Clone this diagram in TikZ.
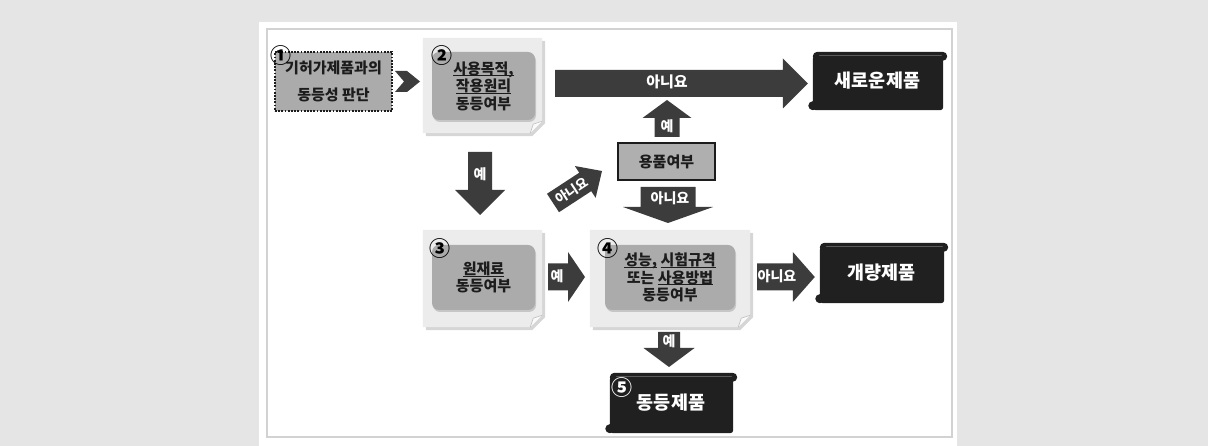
\documentclass[tikz,border=0pt]{standalone}
\usepackage{fontspec}
\newfontfamily\kr{Noto Sans CJK KR}
\usetikzlibrary{calc,shadows}
\definecolor{bgc}{HTML}{E5E5E5}
\definecolor{framec}{HTML}{D2D2D2}
\definecolor{pagec}{HTML}{ECECEC}
\definecolor{foldc}{HTML}{FAFAFA}
\definecolor{boxc}{HTML}{ABABAB}
\definecolor{arrowc}{HTML}{3C3C3C}
\definecolor{scrollc}{HTML}{202020}
\definecolor{scrollhl}{HTML}{5A5A5A}
\definecolor{txtc}{HTML}{1C1C1C}
\pgfdeclarelayer{bottom}
\pgfdeclarelayer{background}
\pgfsetlayers{bottom,background,main}
\newcommand\ulk[1]{\setbox0\hbox{#1}\rlap{\rule[-2.2pt]{\wd0}{0.9pt}}\box0}
\tikzset{
  nodetxt/.style={font=\kr\bfseries\fontsize{15}{17.5}\selectfont, text=txtc, align=center},
  innerbox/.style={nodetxt, rounded corners=7pt, fill=boxc, inner sep=0pt,
     drop shadow={shadow xshift=1pt, shadow yshift=-2pt, opacity=.35}},
  pagepanel/.style={inner sep=0pt},
  dotbox/.style={nodetxt, fill=boxc, draw=txtc, line width=1.8pt, dash pattern=on 1.8pt off 1.4pt, inner sep=0pt},
  yongbox/.style={nodetxt, fill=boxc!95!white, draw=txtc, line width=1.4pt, inner sep=0pt},
  scrollnode/.style={font=\kr\bfseries\fontsize{18.5}{20}\selectfont, text=white, inner sep=0pt},
  numc/.style={font=\kr\bfseries\fontsize{21}{21}\selectfont, text=black, inner sep=0pt},
  arrtxt/.style={font=\kr\bfseries\fontsize{14}{15}\selectfont, text=white, inner sep=0pt},
}
% block arrow: start, tip, shaft half width, head half width, head length
\newcommand\blockarrow[5]{%
  \path ($(#2)!#5!(#1)$) coordinate (ba-h);
  \fill[arrowc] ($(#1)!#3!90:(#2)$) -- ($(ba-h)!#3!90:(#2)$) -- ($(ba-h)!#4!90:(#2)$)
     -- (#2) -- ($(ba-h)!#4!-90:(#2)$) -- ($(ba-h)!#3!-90:(#2)$) -- ($(#1)!#3!-90:(#2)$) -- cycle;}
\newcommand\pagebg[1]{%
  \fill[black, opacity=.16] ($(#1.north west)+(3,3)$) -- ($(#1.north east)+(3,3)$) -- ($(#1.south east)+(3,-10)$)
     -- ($(#1.south east)+(-10,3)$) -- ($(#1.south west)+(3,3)$) -- cycle;
  \fill[pagec] (#1.north west) -- (#1.north east) -- ($(#1.south east)+(0,-12)$)
     -- ($(#1.south east)+(-12,0)$) -- (#1.south west) -- cycle;
  \fill[foldc] ($(#1.south east)+(0,-12)$) -- ($(#1.south east)+(-12,0)$) -- ($(#1.south east)+(-9,-9)$) -- cycle;
  \draw[black!25, line width=.6pt] ($(#1.south east)+(0,-12)$) -- ($(#1.south east)+(-9,-9)$) -- ($(#1.south east)+(-12,0)$);}
\newcommand\scrollbg[1]{%
  \fill[scrollc, rounded corners=3pt] ($(#1.north west)+(5,4)$) rectangle ($(#1.south east)+(-4,0)$);
  \fill[scrollc, rounded corners=4.5pt] ($(#1.north west)+(5,0)$) rectangle ($(#1.north east)+(0,9)$);
  \draw[scrollhl, line width=1.4pt, line cap=round] ($(#1.north west)+(12,3.5)$) -- ($(#1.north east)+(-6,3.5)$);
  \fill[scrollc] ($(#1.south west)+(5,-4.5)$) circle (4.5);}
\begin{document}
\begin{tikzpicture}[x=1pt,y=-1pt]
\useasboundingbox (0,0) rectangle (1208,446);
\begin{pgfonlayer}{bottom}
\fill[bgc] (0,0) rectangle (1208,446);
\fill[white] (259,22) rectangle (957,446);
\draw[framec, line width=2.5pt] (267,29) rectangle (952,437);
\end{pgfonlayer}

% panels (outer pages)
\node[pagepanel, minimum width=119pt, minimum height=95pt] (p2) at (482.5,85.5) {};
\node[pagepanel, minimum width=119pt, minimum height=97pt] (p3) at (482.5,278.5) {};
\node[pagepanel, minimum width=160pt, minimum height=97pt] (p4) at (670,278.5) {};
\begin{pgfonlayer}{background}
\pagebg{p2}\pagebg{p3}\pagebg{p4}
\end{pgfonlayer}

% node 1
\node[dotbox, minimum width=117pt, minimum height=59pt] (n1) at (333.5,81.5) {기허가제품과의\\[9pt]동등성 판단};
\node[numc] (c1) at (281,56) {①};

% chevron
\fill[arrowc] (395,71) -- (407,71) -- (420,81.5) -- (407,92) -- (395,92) -- (404,81.5) -- cycle;

% inner boxes
\node[innerbox, minimum width=103pt, minimum height=68pt] (n2) at (483.5,86) {\ulk{사용목적,}\\\ulk{작용원리}\\동등여부};
\node[numc] (c2) at (442,56) {②};
\node[innerbox, minimum width=103pt, minimum height=65pt] (n3) at (483.5,277.5) {\ulk{원재료}\\동등여부};
\node[numc] (c3) at (440,249) {③};
\node[innerbox, minimum width=130pt, minimum height=65pt] (n4) at (670,277.5) {\ulk{성능,}\ \ulk{시험규격}\\또는\ \ulk{사용방법}\\동등여부};
\node[numc] (c4) at (608,249) {④};

% 용품여부
\node[yongbox, minimum width=97pt, minimum height=37pt] (yp) at (666.5,161.5) {용품여부};

% scrolls
\node[scrollnode, minimum width=139pt, minimum height=58pt] (new) at (877.5,81) {새로운제품};
\node[scrollnode, minimum width=133pt, minimum height=60pt] (imp) at (881.5,273) {개량제품};
\node[scrollnode, minimum width=132pt, minimum height=60pt] (eq) at (671,403) {\raisebox{-3pt}{동등제품}};
\node[numc, text=white] (c5) at (622,388) {⑤};
\begin{pgfonlayer}{background}
\scrollbg{new}\scrollbg{imp}\scrollbg{eq}
\end{pgfonlayer}

% arrows
\coordinate (a1s) at (555,83.5);
\coordinate (a1e) at (a1s -| new.west);
\blockarrow{a1s}{a1e}{13.5pt}{25pt}{25pt}
\node[arrtxt, font=\kr\bfseries\fontsize{15}{16}\selectfont] (t1) at (667,82) {아니요};

\coordinate (a2s) at (667,137);
\coordinate (a2e) at (667,100);
\blockarrow{a2s}{a2e}{12.5pt}{24.5pt}{18pt}
\node[arrtxt] (t2) at (667,126) {예};

\coordinate (a3s) at (668,187);
\coordinate (a3e) at (668,223);
\blockarrow{a3s}{a3e}{27.5pt}{45pt}{16pt}
\node[arrtxt] (t3) at (670,198) {아니요};

\coordinate (a4s) at (553,203);
\coordinate (a4e) at (602,171);
\blockarrow{a4s}{a4e}{11pt}{19pt}{20pt}
\node[arrtxt, font=\kr\bfseries\fontsize{13}{14}\selectfont, rotate=33] (t4) at (572,191) {아니요};

\coordinate (a5s) at (480,152);
\coordinate (a5e) at (480,215);
\blockarrow{a5s}{a5e}{12pt}{25pt}{25pt}
\node[arrtxt] (t5) at (480,174) {예};

\coordinate (a6s) at (548,277);
\coordinate (a6e) at (585,277);
\blockarrow{a6s}{a6e}{13.5pt}{25pt}{17pt}
\node[arrtxt] (t6) at (557,276) {예};

\coordinate (a7s) at (757,277);
\coordinate (a7e) at (a7s -| imp.west);
\blockarrow{a7s}{a7e}{13.5pt}{25pt}{22pt}
\node[arrtxt] (t7) at (777,276) {아니요};

\coordinate (a8s) at (669,332);
\coordinate (a8e) at (669,367);
\blockarrow{a8s}{a8e}{11pt}{25.5pt}{19pt}
\node[arrtxt] (t8) at (669,341) {예};
\end{tikzpicture}
\end{document}
